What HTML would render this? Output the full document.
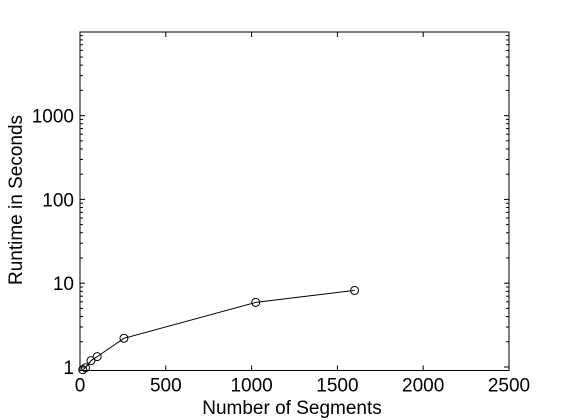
<!DOCTYPE html>
<html><head><meta charset="utf-8"><style>body{margin:0;background:#fff}svg{display:block;font-family:"Liberation Sans",Arial,sans-serif}</style></head>
<body>
<svg id="chart" width="561" height="420" xmlns="http://www.w3.org/2000/svg">
<rect x="0" y="0" width="561" height="420" fill="#fff"/>
<g id="axes"></g>
<g id="series"></g>
<text x="292" y="414" font-size="19" text-anchor="middle">Number of Segments</text>
<text transform="translate(22,200) rotate(-90)" font-size="19" text-anchor="middle">Runtime in Seconds</text>
</svg>
<script>
const segments=[16,32,64,100,256,1024,1600];
const runtimes=[0.93,0.98,1.19,1.33,2.2,5.9,8.2];
const xTicks=[0,500,1000,1500,2000,2500];
const yTicks=[1,10,100,1000];
const L=80,R=509,T=32,B=370.5;
const xMin=0,xMax=2500,y1px=367,decade=83.8;
function X(v){return L+(v-xMin)/(xMax-xMin)*(R-L);}
function Y(v){return y1px-Math.log10(v)*decade;}
const NS="http://www.w3.org/2000/svg";
function mk(tag,attrs,parent){const e=document.createElementNS(NS,tag);for(const k in attrs)e.setAttribute(k,attrs[k]);parent.appendChild(e);return e;}
const ax=document.getElementById('axes');
const frame=mk('rect',{x:L,y:T,width:R-L,height:B-T,fill:'none',stroke:'#000','stroke-width':1},ax);


xTicks.forEach(v=>{
  const x=X(v);
  mk('line',{x1:x,x2:x,y1:B,y2:B-5,stroke:'#000'},ax);
  mk('line',{x1:x,x2:x,y1:T,y2:T+5,stroke:'#000'},ax);
  const t=mk('text',{x:x,y:B+21,'font-size':19,'text-anchor':'middle'},ax);
  t.textContent=v;
  
  
});
for(let d=0;d<4;d++){
  for(let m=1;m<=9;m++){
    const v=Math.pow(10,d)*m;const y=Y(v);
    if(y<T||y>B)continue;
    const len=m===1?5:3;
    mk('line',{x1:L,x2:L+len,y1:y,y2:y,stroke:'#000'},ax);
    mk('line',{x1:R,x2:R-len,y1:y,y2:y,stroke:'#000'},ax);
  }
}
yTicks.forEach(v=>{
  const t=mk('text',{x:L-6,y:Y(v)+7,'font-size':19,'text-anchor':'end'},ax);
  t.textContent=v;
  
  
});
const s=document.getElementById('series');
const pts=segments.map((v,i)=>X(v)+','+Y(runtimes[i])).join(' ');
const line=mk('polyline',{points:pts,fill:'none',stroke:'#000','stroke-width':1},s);


segments.forEach((v,i)=>{
  const c=mk('circle',{cx:X(v),cy:Y(runtimes[i]),r:4,fill:'none',stroke:'#000','stroke-width':1},s);
  
  
});
</script>
</body></html>
